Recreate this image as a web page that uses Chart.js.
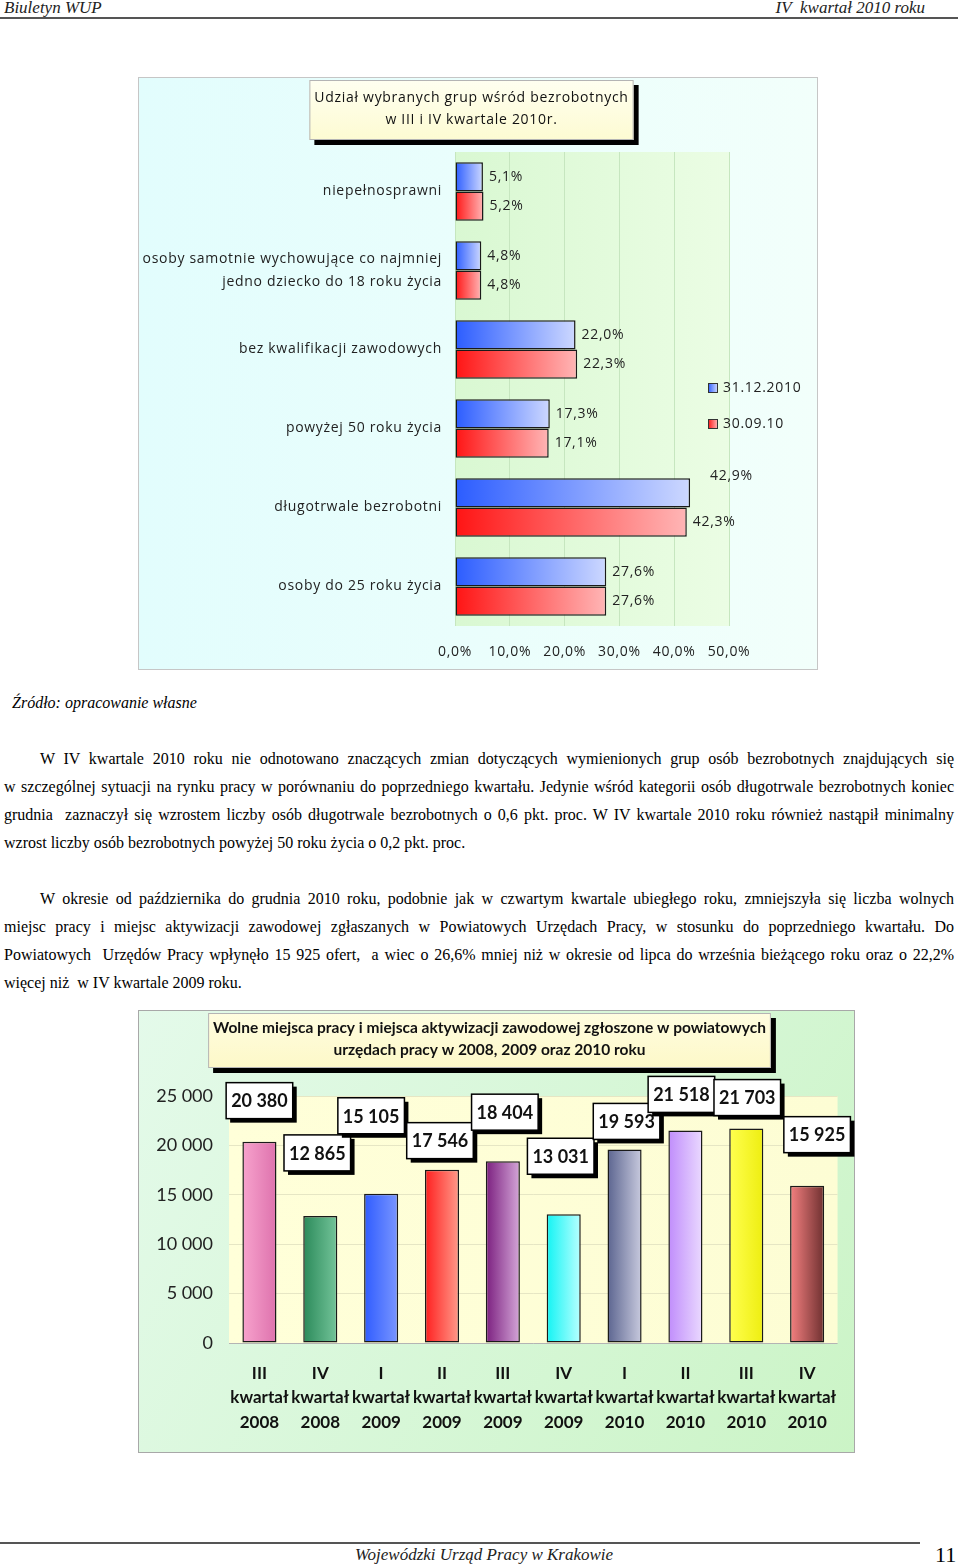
<!DOCTYPE html>
<html lang="pl">
<head>
<meta charset="utf-8">
<script src="https://cdn.jsdelivr.net/npm/chart.js@4.4.1/dist/chart.umd.min.js"></script>
<style>
  body { margin: 0; background: #fff; }
  #page { position: relative; width: 960px; height: 1565px; overflow: hidden; font-family: 'Liberation Serif', 'Times New Roman', serif; color: #000; }
  .abs { position: absolute; white-space: nowrap; }
  .hdr { font-style: italic; font-size: 17px; line-height: 18px; color: #222; }
  .rule { position: absolute; background: #555; }
  .txt { position: absolute; left: 4px; width: 950px; font-size: 16px; line-height: 28px; word-spacing: -1px; }
  .txt div { text-align: justify; text-align-last: justify; }
  .txt div.first { padding-left: 36px; }
  .txt div.last { text-align-last: left; word-spacing: 0; }
  canvas { position: absolute; }
</style>
</head>
<body>
<div id="page">
  <div class="abs hdr" style="left:4px;top:-1px">Biuletyn WUP</div>
  <div class="abs hdr" style="right:35px;top:-1px">IV&nbsp; kwartał 2010 roku</div>
  <div class="rule" style="left:0;top:17px;width:958px;height:2px"></div>

  <canvas id="c1" width="680" height="593" style="left:138px;top:77px"></canvas>

  <div class="abs" style="left:12px;top:694px;font-style:italic;font-size:16px;line-height:18px">Źródło: opracowanie własne</div>

  <div class="txt" style="top:745px">
    <div class="first">W IV kwartale 2010 roku nie odnotowano znaczących zmian dotyczących wymienionych grup osób bezrobotnych znajdujących się</div>
    <div>w szczególnej sytuacji na rynku pracy w porównaniu do poprzedniego kwartału. Jedynie wśród kategorii osób długotrwale bezrobotnych koniec</div>
    <div>grudnia&nbsp; zaznaczył się wzrostem liczby osób długotrwale bezrobotnych o 0,6 pkt. proc. W IV kwartale 2010 roku również nastąpił minimalny</div>
    <div class="last">wzrost liczby osób bezrobotnych powyżej 50 roku życia o 0,2 pkt. proc.</div>
  </div>

  <div class="txt" style="top:885px">
    <div class="first">W okresie od października do grudnia 2010 roku, podobnie jak w czwartym kwartale ubiegłego roku, zmniejszyła się liczba wolnych</div>
    <div>miejsc pracy i miejsc aktywizacji zawodowej zgłaszanych w Powiatowych Urzędach Pracy, w stosunku do poprzedniego kwartału. Do</div>
    <div>Powiatowych&nbsp; Urzędów Pracy wpłynęło 15 925 ofert,&nbsp; a wiec o 26,6% mniej niż w okresie od lipca do września bieżącego roku oraz o 22,2%</div>
    <div class="last">więcej niż&nbsp; w IV kwartale 2009 roku.</div>
  </div>

  <canvas id="c2" width="717" height="443" style="left:138px;top:1010px"></canvas>

  <div class="rule" style="left:0;top:1542px;width:920px;height:1.5px"></div>
  <div class="abs hdr" style="left:355px;top:1546px">Wojewódzki Urząd Pracy w Krakowie</div>
  <div class="abs" style="left:935px;top:1543px;font-size:22px;line-height:24px">11</div>
</div>

<script>
// --- udział wybranych grup (wykres 1)
const groupLabels = [
    'niepełnosprawni',
    ['osoby samotnie wychowujące co najmniej', 'jedno dziecko do 18 roku życia'],
    'bez kwalifikacji zawodowych',
    'powyżej 50 roku życia',
    'długotrwale bezrobotni',
    'osoby do 25 roku życia'
];
const seriesNames = ['31.12.2010', '30.09.10'];
const shareDec = [5.1, 4.8, 22.0, 17.3, 42.9, 27.6];
const shareSep = [5.2, 4.8, 22.3, 17.1, 42.3, 27.6];
const shareMax = 50;
const shareStep = 10;
const title1 = ['Udział wybranych grup wśród bezrobotnych', 'w III i IV kwartale 2010r.'];

// --- wolne miejsca pracy (wykres 2)
const quarterLabels = [
    ['III', 'kwartał', '2008'], ['IV', 'kwartał', '2008'],
    ['I', 'kwartał', '2009'], ['II', 'kwartał', '2009'],
    ['III', 'kwartał', '2009'], ['IV', 'kwartał', '2009'],
    ['I', 'kwartał', '2010'], ['II', 'kwartał', '2010'],
    ['III', 'kwartał', '2010'], ['IV', 'kwartał', '2010']
];
const offers = [20380, 12865, 15105, 17546, 18404, 13031, 19593, 21518, 21703, 15925];
const offersMax = 25000;
const offersStep = 5000;
const title2 = ['Wolne miejsca pracy i miejsca aktywizacji zawodowej zgłoszone w powiatowych', 'urzędach pracy w 2008, 2009 oraz 2010 roku'];

// styles
const barShades = [
    ['#f7a3cd', '#de72ad'], ['#2b8a5a', '#74c49a'], ['#2f5cff', '#7a96ff'], ['#ff1f1f', '#ff9a8a'],
    ['#7b1f7f', '#d4a6d8'], ['#12f4f4', '#b8ffff'], ['#5c6590', '#c8cade'], ['#c08dfb', '#ead9ff'],
    ['#ffff50', '#eeee10'], ['#f58080', '#6e3030']
];
// where Excel left the value boxes, relative to bar top
const labelShift = [[0, -41], [-3, -63], [-10, -78], [-2, -29], [2, -49], [-3, -58], [2, -28], [-4, -36], [1, -31], [10, -51]];

const pct = v => v.toFixed(1).replace('.', ',') + '%';
const thousands = v => String(v).replace(/\B(?=(\d{3})+(?!\d))/g, ' ');

function hGrad(c0, c1) {
    return function (c) {
        const chart = c.chart;
        if (!chart.chartArea || c.raw == null) return c0;
        const x = chart.scales.x;
        const g = chart.ctx.createLinearGradient(x.getPixelForValue(0), 0, x.getPixelForValue(c.raw), 0);
        g.addColorStop(0, c0);
        g.addColorStop(1, c1);
        return g;
    };
}

function vGrad(c) {
    const chart = c.chart;
    if (!chart.chartArea || c.dataIndex === undefined) return barShades[0][0];
    const xs = chart.scales.x;
    const cx = xs.getPixelForValue(c.dataIndex);
    const half = xs.width / offers.length * 0.56 / 2;
    const g = chart.ctx.createLinearGradient(cx - half, 0, cx + half, 0);
    g.addColorStop(0, barShades[c.dataIndex][0]);
    g.addColorStop(1, barShades[c.dataIndex][1]);
    return g;
}

function framePlugin(cfg) {
    return {
        id: 'frame',
        beforeDraw(chart) {
            const ctx = chart.ctx, w = chart.width, h = chart.height, a = chart.chartArea;
            // Excel spreads the letters a bit
            ctx.letterSpacing = cfg.spacing || '0px';
            ctx.save();
            let g = ctx.createLinearGradient(0, 0, w, cfg.diag ? h : 0);
            g.addColorStop(0, cfg.bg[0]);
            g.addColorStop(1, cfg.bg[1]);
            ctx.fillStyle = g;
            ctx.fillRect(0, 0, w, h);
            ctx.strokeStyle = cfg.border;
            ctx.lineWidth = 1;
            ctx.strokeRect(0.5, 0.5, w - 1, h - 1);

            g = ctx.createLinearGradient(a.left, 0, a.right, 0);
            g.addColorStop(0, cfg.plot[0]);
            g.addColorStop(1, cfg.plot[1]);
            ctx.fillStyle = g;
            ctx.fillRect(a.left, a.top, a.right - a.left, a.bottom - a.top);

            // title in a box with a hard shadow
            ctx.font = cfg.font;
            const tw = Math.max(...cfg.title.map(t => ctx.measureText(t).width));
            const bx = cfg.cx - tw / 2 - 5;
            const by = cfg.y0 - cfg.padTop;
            const bw = tw + 10;
            const bh = cfg.padTop + (cfg.title.length - 1) * cfg.lineH + cfg.padBottom;
            ctx.fillStyle = '#000';
            ctx.fillRect(bx + 5, by + 5, bw, bh);
            g = ctx.createLinearGradient(0, by, 0, by + bh);
            g.addColorStop(0, cfg.boxFill[0]);
            g.addColorStop(1, cfg.boxFill[1]);
            ctx.fillStyle = g;
            ctx.fillRect(bx, by, bw, bh);
            ctx.strokeStyle = '#b4b4b4';
            ctx.strokeRect(bx + 0.5, by + 0.5, bw - 1, bh - 1);
            ctx.fillStyle = '#111';
            ctx.textAlign = 'center';
            ctx.textBaseline = 'middle';
            cfg.title.forEach((t, i) => ctx.fillText(t, cfg.cx, cfg.y0 + i * cfg.lineH));
            ctx.restore();
        }
    };
}

const shareLabels = {
    id: 'shareLabels',
    afterDatasetsDraw(chart) {
        const ctx = chart.ctx;
        const nudge = { '0:4': [14, -17] };
        ctx.save();
        ctx.font = '14px "Open Sans"';
        ctx.fillStyle = '#222';
        ctx.textAlign = 'left';
        ctx.textBaseline = 'middle';
        chart.data.datasets.forEach((ds, i) => {
            chart.getDatasetMeta(i).data.forEach((bar, j) => {
                const n = nudge[i + ':' + j] || [0, 0];
                ctx.fillText(pct(ds.data[j]), bar.x + 6 + n[0], bar.y + n[1]);
            });
        });
        ctx.restore();
    }
};

const shareLegend = {
    id: 'shareLegend',
    afterDraw(chart) {
        const ctx = chart.ctx, a = chart.chartArea;
        const x = a.right - 21;
        const y = (a.top + a.bottom) / 2 - 1;
        const colors = [['#2b5cff', '#d4deff'], ['#ff1414', '#ffbcbc']];
        ctx.save();
        ctx.font = '14px "Open Sans"';
        ctx.textBaseline = 'middle';
        ctx.textAlign = 'left';
        chart.data.datasets.forEach((ds, i) => {
            const yy = y + i * 36;
            const g = ctx.createLinearGradient(x, 0, x + 10, 0);
            g.addColorStop(0, colors[i][0]);
            g.addColorStop(1, colors[i][1]);
            ctx.fillStyle = g;
            ctx.fillRect(x, yy - 5, 10, 10);
            ctx.strokeStyle = '#333';
            ctx.lineWidth = 1;
            ctx.strokeRect(x + 0.5, yy - 4.5, 9, 9);
            ctx.fillStyle = '#222';
            ctx.fillText(ds.label, x + 15, yy);
        });
        ctx.restore();
    }
};

const offerLabels = {
    id: 'offerLabels',
    afterDatasetsDraw(chart) {
        const ctx = chart.ctx;
        ctx.save();
        ctx.font = 'bold 18px Lato';
        ctx.textAlign = 'center';
        ctx.textBaseline = 'middle';
        chart.getDatasetMeta(0).data.forEach((bar, j) => {
            const t = thousands(offers[j]);
            const cx = bar.x + labelShift[j][0];
            const cy = bar.y + labelShift[j][1];
            const bw = ctx.measureText(t).width + 10;
            const bh = 36;
            ctx.fillStyle = '#000';
            ctx.fillRect(cx - bw / 2 + 4, cy - bh / 2 + 4, bw, bh);
            ctx.fillStyle = '#fff';
            ctx.fillRect(cx - bw / 2, cy - bh / 2, bw, bh);
            ctx.strokeStyle = '#000';
            ctx.lineWidth = 1.5;
            ctx.strokeRect(cx - bw / 2, cy - bh / 2, bw, bh);
            ctx.fillStyle = '#111';
            ctx.fillText(t, cx, cy + 1);
        });
        ctx.restore();
    }
};

new Chart(document.getElementById('c1'), {
    type: 'bar',
    data: {
        labels: groupLabels,
        datasets: [{
            label: seriesNames[0],
            data: shareDec,
            backgroundColor: hGrad('#2b5cff', '#cdd8ff'),
            borderColor: '#1a1a1a',
            borderWidth: 1.5,
            borderSkipped: false,
            categoryPercentage: 0.74,
            barPercentage: 1
        }, {
            label: seriesNames[1],
            data: shareSep,
            backgroundColor: hGrad('#ff1414', '#ffb6b6'),
            borderColor: '#1a1a1a',
            borderWidth: 1.5,
            borderSkipped: false,
            categoryPercentage: 0.74,
            barPercentage: 1
        }]
    },
    options: {
        indexAxis: 'y',
        responsive: false,
        animation: false,
        layout: { padding: { top: 75, right: 89, bottom: 0, left: 0 } },
        plugins: { legend: { display: false }, tooltip: { enabled: false } },
        scales: {
            x: {
                min: 0, max: shareMax,
                ticks: { stepSize: shareStep, padding: 18, color: '#222', font: { family: 'Open Sans', size: 14 }, callback: v => pct(v) },
                grid: { color: '#c6e6bf', drawTicks: false },
                border: { display: false },
                afterFit: s => { s.height = 44; }
            },
            y: {
                ticks: { padding: 13, color: '#222', font: { family: 'Open Sans', size: 14, lineHeight: 1.6 } },
                grid: { display: false, drawTicks: false },
                border: { display: false },
                afterFit: s => { s.width = 317; }
            }
        }
    },
    plugins: [framePlugin({
        bg: ['#e2fdfd', '#f2fffb'], plot: ['#d9f8d2', '#ebfde4'], border: '#c6c6c6', spacing: '0.7px',
        title: title1, font: '14px "Open Sans"', cx: 333.5, y0: 21, lineH: 22,
        padTop: 18, padBottom: 20, boxFill: ['#fffff0', '#fdfbd2']
    }), shareLabels, shareLegend]
});

new Chart(document.getElementById('c2'), {
    type: 'bar',
    data: {
        labels: quarterLabels,
        datasets: [{
            label: 'Wolne miejsca pracy',
            data: offers,
            backgroundColor: vGrad,
            borderColor: '#1a1a1a',
            borderWidth: 1.5,
            borderSkipped: false,
            categoryPercentage: 1,
            barPercentage: 0.56
        }]
    },
    options: {
        responsive: false,
        animation: false,
        layout: { padding: { top: 86, right: 16, bottom: 0, left: 0 } },
        plugins: { legend: { display: false }, tooltip: { enabled: false } },
        scales: {
            x: {
                ticks: { autoSkip: false, maxRotation: 0, minRotation: 0, padding: 18, color: '#111', font: { family: 'Lato', size: 17, weight: 'bold', lineHeight: 1.44 } },
                grid: { display: false, drawTicks: false },
                border: { display: false },
                afterFit: s => { s.height = 110; }
            },
            y: {
                min: 0, max: offersMax,
                ticks: { stepSize: offersStep, padding: 16, color: '#222', font: { family: 'Lato', size: 18 }, callback: v => thousands(v) },
                grid: { color: c => c.tick && c.tick.value === 0 ? '#b4b4b4' : '#e6e6c4', drawTicks: false },
                border: { display: false },
                afterFit: s => { s.width = 91; }
            }
        }
    },
    plugins: [framePlugin({
        bg: ['#e4faea', '#cbf4c6'], diag: true, plot: ['#ffffd9', '#fdfdd4'], border: '#a8a8a8',
        title: title2, font: 'bold 15.5px Lato', cx: 351.5, y0: 18, lineH: 22,
        padTop: 15, padBottom: 18, boxFill: ['#fffde0', '#fdf8c8']
    }), offerLabels]
});
</script>
</body>
</html>
